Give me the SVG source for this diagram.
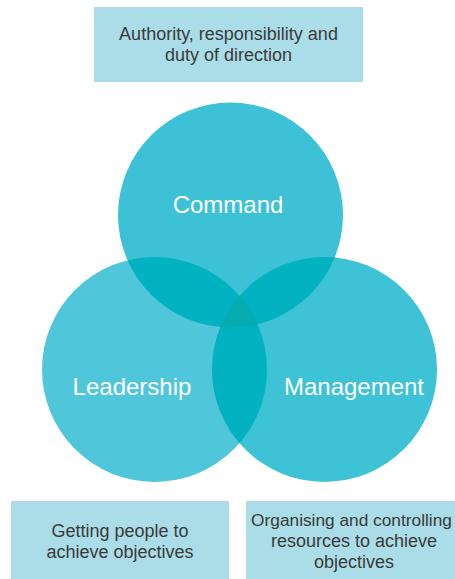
<svg xmlns="http://www.w3.org/2000/svg" width="455" height="579" viewBox="0 0 455 579">
<style>
.box{fill:#aadde8}
.bt{font-family:"Liberation Sans",Arial,sans-serif;font-size:18px;fill:#3a3a3a;text-anchor:middle}
.ct{font-family:"Liberation Sans",Arial,sans-serif;font-size:24px;fill:#ffffff;text-anchor:middle}
.ov2{fill:#02b2c0}
.ov3{fill:#05adb1}
</style>
<defs>
<clipPath id="cC"><circle cx="230.5" cy="215" r="112.5"/></clipPath>
<clipPath id="cL"><circle cx="154.5" cy="369.5" r="112.5"/></clipPath>
<clipPath id="cM"><circle cx="324.5" cy="369.5" r="112.5"/></clipPath>
</defs>
<g id="top-box">
<rect class="box" x="94" y="7" width="269" height="75"/>
<text class="bt" x="228.5" y="40">Authority, responsibility and</text>
<text class="bt" x="228.5" y="61">duty of direction</text>
</g>
<g id="leadership-circle">
<circle cx="154.5" cy="369.5" r="112.5" fill="#50c6da"/>
</g>
<g id="management-circle">
<circle cx="324.5" cy="369.5" r="112.5" fill="#3dc2d6"/>
</g>
<g id="command-circle">
<circle cx="230.5" cy="215" r="112.5" fill="#3dc1d6"/>
</g>
<g id="overlaps">
<circle class="ov2" cx="154.5" cy="369.5" r="112.5" clip-path="url(#cC)"/>
<circle class="ov2" cx="324.5" cy="369.5" r="112.5" clip-path="url(#cC)"/>
<circle class="ov2" cx="324.5" cy="369.5" r="112.5" clip-path="url(#cL)"/>
<g clip-path="url(#cL)"><circle class="ov3" cx="324.5" cy="369.5" r="112.5" clip-path="url(#cC)"/></g>
</g>
<g id="labels">
<text class="ct" x="228" y="213">Command</text>
<text class="ct" x="132" y="395">Leadership</text>
<text class="ct" x="354" y="395">Management</text>
</g>
<g id="left-box">
<rect class="box" x="11" y="501" width="218" height="78"/>
<text class="bt" x="120" y="537">Getting people to</text>
<text class="bt" x="120" y="558">achieve objectives</text>
</g>
<g id="right-box">
<rect class="box" x="246" y="501" width="209" height="78"/>
<text class="bt" x="351.5" y="526" style="font-size:17.3px">Organising and controlling</text>
<text class="bt" x="354" y="547">resources to achieve</text>
<text class="bt" x="354" y="568">objectives</text>
</g>
</svg>
